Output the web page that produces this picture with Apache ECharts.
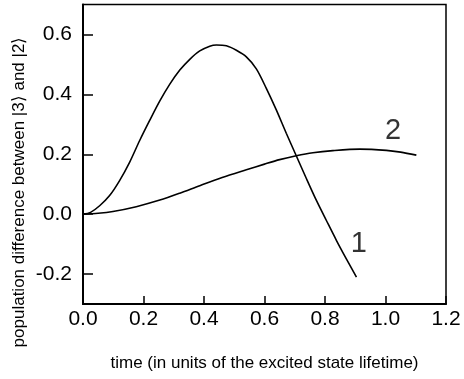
<!DOCTYPE html>
<html>
<head>
<meta charset="utf-8">
<script src="https://cdn.jsdelivr.net/npm/echarts@6/dist/echarts.min.js"></script>
<style>
  html, body { margin: 0; padding: 0; background: #fff; }
  #chart { width: 464px; height: 379px; }
</style>
</head>
<body>
<div id="chart"></div>
<script>
// Curve 1: population difference, fast oscillation
const curve1X = [0, 0.025, 0.055, 0.088, 0.121, 0.154, 0.187, 0.22, 0.254, 0.287, 0.32, 0.353, 0.386, 0.419, 0.441,
                 0.474, 0.507, 0.54, 0.573, 0.606, 0.639, 0.672, 0.705, 0.738, 0.772, 0.805, 0.838, 0.871, 0.904];
const curve1Y = [0, 0.006, 0.028, 0.062, 0.112, 0.173, 0.245, 0.312, 0.378, 0.434, 0.481, 0.517, 0.545, 0.561, 0.565,
                 0.562, 0.547, 0.525, 0.485, 0.42, 0.348, 0.27, 0.195, 0.12, 0.045, -0.022, -0.088, -0.15, -0.21];

// Curve 2: population difference, slow rise
const curve2X = [0, 0.05, 0.099, 0.176, 0.254, 0.32, 0.386, 0.46, 0.54, 0.6, 0.65, 0.705, 0.76, 0.826, 0.915, 1.003, 1.05, 1.102];
const curve2Y = [0, 0.003, 0.009, 0.025, 0.047, 0.07, 0.095, 0.122, 0.148, 0.167, 0.182, 0.195, 0.205, 0.212, 0.217, 0.213, 0.207, 0.197];

// Curve labels and where they sit
const curveNames = ['1', '2'];
const curveLabelX = [0.912, 1.025];
const curveLabelY = [-0.099, 0.276];

// Axis ticks
const xTicks = [0, 0.2, 0.4, 0.6, 0.8, 1.0, 1.2];
const yTicks = [-0.2, 0, 0.2, 0.4, 0.6];

const zip = (xs, ys) => xs.map((x, i) => [x, ys[i]]);

const font = 'Liberation Sans, Arial, Helvetica, sans-serif';
const chart = echarts.init(document.getElementById('chart'), null, { renderer: 'canvas' });

chart.setOption({
  animation: false,
  backgroundColor: '#fff',
  grid: {
    left: 83, right: 18, top: 4.5, bottom: 75,
    show: true, borderColor: '#000', borderWidth: 1.5, backgroundColor: 'transparent'
  },
  xAxis: {
    type: 'value',
    min: 0, max: 1.2, interval: 0.2,
    name: 'time (in units of the excited state lifetime)',
    nameLocation: 'middle', nameGap: 51,
    nameTextStyle: { fontFamily: font, fontSize: 17, color: '#000' },
    axisLine: { show: true, onZero: false, lineStyle: { color: '#000', width: 2 } },
    axisTick: { show: true, inside: true, length: 8, customValues: xTicks, lineStyle: { color: '#000', width: 1.5 } },
    axisLabel: {
      margin: 5, fontFamily: font, fontSize: 21, color: '#000',
      customValues: xTicks,
      formatter: v => v.toFixed(1)
    },
    splitLine: { show: false }
  },
  yAxis: {
    type: 'value',
    min: -0.3, max: 0.7,
    axisLine: { show: true, onZero: false, lineStyle: { color: '#000', width: 2 } },
    axisTick: { show: true, inside: true, length: 10, customValues: yTicks, lineStyle: { color: '#000', width: 1.5 } },
    axisLabel: {
      margin: 11, fontFamily: font, fontSize: 21, color: '#000',
      customValues: yTicks,
      formatter: v => v.toFixed(1)
    },
    splitLine: { show: false }
  },
  graphic: [{
    type: 'text',
    x: 19, y: 192,
    rotation: Math.PI / 2,
    style: {
      text: 'population difference between |3\u27E9 and |2\u27E9',
      fontFamily: font, fontSize: 17, fill: '#000',
      align: 'center', verticalAlign: 'middle'
    }
  }],
  series: [
    {
      name: 'curve 1', type: 'line', data: zip(curve1X, curve1Y),
      smooth: 0.3, showSymbol: false,
      lineStyle: { color: '#000', width: 1.6 }
    },
    {
      name: 'curve 2', type: 'line', data: zip(curve2X, curve2Y),
      smooth: 0.3, showSymbol: false,
      lineStyle: { color: '#000', width: 1.6 }
    },
    {
      name: 'curve labels', type: 'scatter',
      data: curveNames.map((n, i) => ({ value: [curveLabelX[i], curveLabelY[i]], name: n })),
      symbolSize: 0,
      label: {
        show: true, position: 'inside', formatter: p => p.name,
        fontFamily: font, fontSize: 29, color: '#000'
      }
    }
  ]
});
</script>
</body>
</html>
